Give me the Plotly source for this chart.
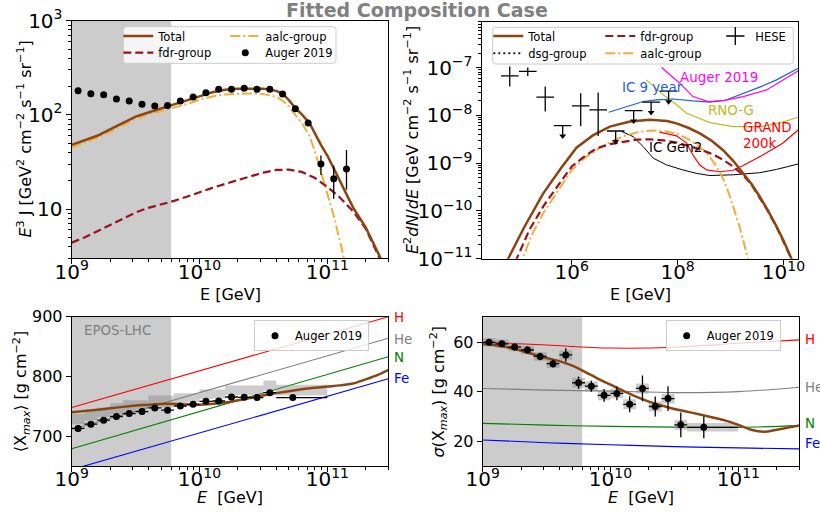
import numpy as np
import plotly.graph_objects as go

FONT = "DejaVu Sans"

# ------------------------------------------------------------------ data
# Top-left: UHECR spectrum E^3 J  (Auger 2019)
spec_lgE = [9.05, 9.15, 9.25, 9.35, 9.45, 9.55, 9.65, 9.75, 9.85, 9.95,
            10.05, 10.15, 10.25, 10.35, 10.45, 10.55, 10.65, 10.75, 10.85,
            10.95, 11.05, 11.15]
spec_E3J = [180, 168, 164, 147, 140, 130, 124, 126, 140, 155, 172, 187, 187,
            192, 187, 187, 167, 116, 82, 30, 21, 26.7]
spec_err_minus = [2, 2, 2, 2, 2, 2, 2, 2, 2, 2, 2, 2, 2, 3, 3, 3, 4, 4, 5, 7, 8.1, 10.7]
spec_err_plus = [2, 2, 2, 2, 2, 2, 2, 2, 2, 2, 2, 2, 2, 3, 3, 3, 4, 4, 5, 7, 8.0, 15.8]

tl_total_lgE = [9.0, 9.1, 9.2, 9.3, 9.4, 9.5, 9.6, 9.7, 9.8, 9.9, 10.0, 10.1, 10.2,
                10.3, 10.4, 10.5, 10.6, 10.65, 10.7, 10.75, 10.8, 10.86, 10.95,
                11.0, 11.05, 11.1, 11.15, 11.2, 11.3, 11.4, 11.48]
tl_total = [48, 54, 60, 70, 82, 96, 106, 117, 127, 140, 157, 174, 185, 190, 191,
            190, 180, 168, 143, 118, 101, 82, 48, 37, 27, 19.5, 14.2, 10.5, 6.4,
            3.3, 2.0]
tl_aalc_lgE = [9.0, 9.1, 9.2, 9.3, 9.4, 9.5, 9.6, 9.7, 9.8, 9.9, 10.0, 10.1, 10.2,
               10.3, 10.4, 10.5, 10.6, 10.65, 10.7, 10.75, 10.8, 10.86, 10.9,
               10.95, 11.0, 11.05, 11.1, 11.15]
tl_aalc = [45, 51, 57, 66, 77, 91, 101, 110, 118, 130, 145, 157, 165, 168, 169,
           167, 155, 142, 122, 100, 82, 60, 42, 25, 15, 8.5, 4.5, 2.3]
tl_fdr_lgE = [9.0, 9.1, 9.2, 9.3, 9.4, 9.5, 9.6, 9.7, 9.8, 9.9, 10.0, 10.1, 10.2,
              10.3, 10.4, 10.5, 10.6, 10.7, 10.8, 10.9, 11.0, 11.1, 11.2, 11.3,
              11.4, 11.48]
tl_fdr = [4.4, 5.0, 5.8, 6.8, 7.9, 9.2, 10.3, 11.2, 12.2, 13.5, 15.2, 16.8, 18.5,
          20.3, 22.3, 24.4, 26.0, 26.2, 24.8, 21.5, 17.2, 13.2, 9.5, 6.2, 3.2, 2.0]

# Top-right: neutrino fluxes E^2 dN/dE
tr_total_lgE = [4.70, 4.80, 5.10, 5.46, 5.80, 6.09, 6.40, 6.72, 7.10, 7.48, 7.80,
                7.98, 8.20, 8.42, 8.65, 8.86, 9.05, 9.24, 9.40, 9.55, 9.70, 9.87,
                10.00, 10.15, 10.25]
tr_total = [6.3e-12, 1.0e-11, 4.5e-11, 2.3e-10, 7.9e-10, 2.1e-9, 3.8e-9, 5.8e-9,
            7.4e-9, 8.1e-9, 7.6e-9, 6.8e-9, 5.5e-9, 4.2e-9, 2.9e-9, 1.86e-9,
            1.12e-9, 6.2e-10, 3.6e-10, 2.0e-10, 1.05e-10, 4.7e-11, 2.4e-11,
            1.0e-11, 5.0e-12]
tr_fdr_lgE = [4.85, 4.96, 5.20, 5.46, 5.75, 6.00, 6.25, 6.47, 6.72, 6.97, 7.23,
              7.48, 7.73, 7.98, 8.20, 8.42, 8.65, 8.86, 9.05, 9.24, 9.40, 9.55,
              9.70, 9.87, 10.00, 10.15, 10.25]
tr_fdr = [5.0e-12, 1.0e-11, 4.0e-11, 1.23e-10, 3.5e-10, 8.5e-10, 1.41e-9, 2.04e-9,
          2.5e-9, 2.8e-9, 3.1e-9, 3.16e-9, 3.0e-9, 2.7e-9, 2.3e-9, 1.95e-9,
          1.55e-9, 1.17e-9, 8.5e-10, 5.6e-10, 3.5e-10, 1.95e-10, 1.02e-10,
          4.6e-11, 2.3e-11, 1.0e-11, 5.0e-12]
tr_aalc_lgE = [5.00, 5.07, 5.25, 5.46, 5.75, 6.00, 6.25, 6.47, 6.72, 6.97, 7.23,
               7.48, 7.73, 7.98, 8.20, 8.42, 8.58, 8.74, 8.86, 8.99, 9.17, 9.33,
               9.40]
tr_aalc = [6.3e-12, 1.0e-11, 3.2e-11, 8.9e-11, 2.8e-10, 7.2e-10, 1.29e-9, 1.9e-9,
           2.75e-9, 3.6e-9, 4.4e-9, 4.8e-9, 4.7e-9, 4.2e-9, 3.2e-9, 2.2e-9,
           1.48e-9, 8.5e-10, 4.7e-10, 2.0e-10, 4.7e-11, 1.0e-11, 5.0e-12]
tr_dsg_lgE = []
tr_dsg = []

# HESE measured points and upper limits
hese_lgE = [4.83, 5.17, 5.50, 6.17, 6.50]
hese_flux = [6.7e-8, 8.3e-8, 2.4e-8, 1.58e-8, 1.3e-8]
hese_flux_lo = [4.0e-8, 6.7e-8, 1.2e-8, 6.0e-9, 3.7e-9]
hese_flux_hi = [1.05e-7, 1.0e-7, 4.0e-8, 2.9e-8, 3.0e-8]
hese_ul_lgE = [5.83, 6.83, 7.17, 7.50, 7.83]
hese_ul = [6.1e-9, 4.7e-9, 1.26e-8, 1.9e-8, 3.2e-8]
hese_bin_half_dex = 1.0 / 6.0

# Sensitivity curves
ic9_lgE = [6.70, 7.04, 7.35, 7.60, 7.92, 8.29, 8.61, 8.89, 9.24, 9.55, 9.87, 10.28]
ic9 = [1.16e-8, 1.5e-8, 1.95e-8, 2.11e-8, 2.2e-8, 2.0e-8, 1.9e-8, 2.05e-8,
       2.85e-8, 3.89e-8, 5.52e-8, 9.7e-8]
augsens_lgE = [7.70, 8.04, 8.29, 8.58, 8.89, 9.24, 9.68, 10.28]
augsens = [1.0e-7, 4.71e-8, 2.47e-8, 1.94e-8, 2.05e-8, 2.47e-8, 3.41e-8, 8.6e-8]
rno_lgE = [7.41, 7.73, 7.98, 8.17, 8.61, 9.05, 9.55, 9.87, 10.28]
rno = [5.52e-8, 2.68e-8, 1.66e-8, 1.11e-8, 7.05e-9, 5.81e-9, 5.81e-9, 6.61e-9, 9.12e-9]
grand_lgE = [7.66, 7.98, 8.17, 8.29, 8.42, 8.55, 8.80, 9.05, 9.24, 9.61, 9.99, 10.28]
grand = [4.47e-9, 3.72e-9, 2.63e-9, 1.48e-9, 9.1e-10, 7.2e-10, 6.6e-10, 7.1e-10,
         8.9e-10, 1.48e-9, 2.63e-9, 5.0e-9]
gen2_lgE = [6.95, 7.16, 7.35, 7.54, 7.79, 8.10, 8.36, 8.61, 9.05, 9.55, 9.87, 10.28]
gen2 = [4.57e-9, 3.59e-9, 2.22e-9, 1.27e-9, 9.2e-10, 7.2e-10, 6.1e-10, 5.5e-10,
        5.7e-10, 6.3e-10, 7.4e-10, 9.6e-10]

# Bottom panels: Auger 2019 Xmax moments
comp_lgE = [9.05, 9.15, 9.25, 9.35, 9.45, 9.55, 9.65, 9.75, 9.85, 9.95, 10.05,
            10.15, 10.25, 10.35, 10.45, 10.55, 10.73]
comp_bin_lo = [9.0, 9.1, 9.2, 9.3, 9.4, 9.5, 9.6, 9.7, 9.8, 9.9, 10.0, 10.1, 10.2,
               10.3, 10.4, 10.5, 10.6]
comp_bin_hi = [9.1, 9.2, 9.3, 9.4, 9.5, 9.6, 9.7, 9.8, 9.9, 10.0, 10.1, 10.2, 10.3,
               10.4, 10.5, 10.6, 11.0]
xmax = [712.9, 720.1, 726.7, 732.9, 737.9, 741.2, 747.2, 743.4, 750.5, 753.3,
        758.3, 758.8, 765.5, 765.0, 764.5, 772.7, 764.5]
xmax_err = [1.5, 1.5, 1.5, 1.5, 1.5, 1.7, 1.8, 2.0, 1.8, 2.0, 2.0, 2.2, 2.5, 2.5,
            3.0, 3.0, 3.0]
xmax_box_lo = [720, 726, 732, 737, 741, 745, 750, 748, 755, 757, 762, 763, 769,
               769, 769, 776, 768]
xmax_box_hi = [737, 742, 748, 755, 760, 760, 768, 768, 772, 772, 778, 778, 785,
               785, 785, 793, 786]
sig = [59.9, 59.3, 58.0, 56.8, 54.2, 51.3, 54.8, 43.6, 42.2, 38.5, 39.3, 34.9,
       41.3, 34.0, 37.2, 26.6, 25.6]
sig_err = [1.2, 1.2, 1.3, 1.4, 1.5, 1.6, 2.7, 2.5, 2.2, 2.6, 2.8, 3.2, 5.2, 4.0,
           5.0, 5.0, 4.4]
sig_sys = [1.7, 1.7, 1.7, 1.7, 1.7, 1.8, 1.9, 2.0, 2.0, 2.0, 2.0, 2.0, 2.0, 2.0,
           2.0, 2.0, 1.7]

xmax_model_lgE = [9.0, 9.2, 9.4, 9.55, 9.7, 9.85, 10.0, 10.15, 10.3, 10.45, 10.6,
                  10.75, 10.9, 11.0, 11.1, 11.2, 11.3, 11.4, 11.48]
xmax_model = [740, 744, 749, 752, 754, 753.5, 752.5, 755, 760, 766, 772, 777, 781,
              783, 785, 788, 795, 803, 811]
sig_model_lgE = [9.0, 9.1, 9.2, 9.3, 9.4, 9.5, 9.6, 9.7, 9.8, 9.9, 10.0, 10.1, 10.2,
                 10.3, 10.4, 10.5, 10.6, 10.7, 10.8, 10.9, 11.0, 11.1, 11.2, 11.3,
                 11.4, 11.48]
sig_model = [59.2, 58.7, 57.8, 56.5, 55.0, 53.6, 52.3, 50.5, 48.0, 45.3, 42.8,
             40.3, 38.0, 36.0, 34.4, 33.0, 31.9, 30.8, 29.6, 28.3, 26.6, 24.6,
             23.8, 24.6, 25.6, 26.3]

# pure-element references (EPOS-LHC)
elem_names = ["H", "He", "N", "Fe"]
elem_colors = ["#ff0000", "#808080", "#008000", "#0000ff"]
elem_lgE = [9.0, 11.477]
elem_xmax = [[748, 900], [711, 864], [679, 833], [644, 796]]
elem_sig_lgE = [9.0, 9.5, 10.0, 10.5, 11.0, 11.477]
elem_sig = [[60.0, 58.8, 57.6, 57.9, 59.5, 60.9],
            [41.3, 40.6, 40.2, 39.6, 40.0, 41.8],
            [27.2, 26.5, 26.0, 25.7, 25.6, 26.3],
            [20.5, 19.4, 18.6, 17.8, 17.3, 16.9]]
elem_label_xmax = [899, 862.5, 831, 796]
elem_label_sig = [60.9, 41.8, 27.2, 18.9]

fit_band_E = [1e9, 6e9]

# ------------------------------------------------------------------ styles
C_TOT = "#8b4513"
C_FDR = "#9b111e"
C_AALC = "#f2ae3d"
C_DSG = "#1a1a3a"


def E(lg):
    return [None if v is None else 10 ** v for v in lg]


fig = go.Figure()


def add(tr):
    fig.add_trace(tr)


# ---------------- top-left
add(go.Scatter(x=E(tl_aalc_lgE), y=tl_aalc, mode="lines", name="aalc-group",
               line=dict(color=C_AALC, width=2, dash="10px,3px,2px,3px"),
               xaxis="x", yaxis="y", legend="legend", legendrank=2, legendwidth=62))
add(go.Scatter(x=E(tl_fdr_lgE), y=tl_fdr, mode="lines", name="fdr-group",
               line=dict(color=C_FDR, width=2.2, dash="8px,4px"),
               xaxis="x", yaxis="y", legend="legend2", legendrank=1, legendwidth=62))
add(go.Scatter(x=E(tl_total_lgE), y=tl_total, mode="lines", name="Total",
               line=dict(color=C_TOT, width=2.5),
               xaxis="x", yaxis="y", legend="legend", legendrank=1, legendwidth=62))
add(go.Scatter(x=E(spec_lgE), y=spec_E3J, mode="markers", name="Auger 2019",
               marker=dict(color="black", size=7),
               error_y=dict(type="data", symmetric=False, array=spec_err_plus,
                            arrayminus=spec_err_minus, color="black", thickness=1.3, width=0),
               xaxis="x", yaxis="y", legend="legend2", legendrank=2))


# ---------------- top-right
def tr_line(lg, y, color, width=1.2):
    add(go.Scatter(x=E(lg), y=y, mode="lines", line=dict(color=color, width=width),
                   showlegend=False, xaxis="x2", yaxis="y2", hoverinfo="skip"))


tr_line(ic9_lgE, ic9, "#1f5fdc")
tr_line(augsens_lgE, augsens, "#ff00ff")
tr_line(rno_lgE, rno, "#bcbd22")
tr_line(grand_lgE, grand, "#ff0000")
tr_line(gen2_lgE, gen2, "#000000", width=1.0)

add(go.Scatter(x=E(tr_aalc_lgE), y=tr_aalc, mode="lines", name="aalc-group",
               line=dict(color=C_AALC, width=2, dash="10px,3px,2px,3px"),
               xaxis="x2", yaxis="y2", legend="legend4", legendrank=2, legendwidth=67))
add(go.Scatter(x=E(tr_fdr_lgE), y=tr_fdr, mode="lines", name="fdr-group",
               line=dict(color=C_FDR, width=2.2, dash="8px,4px"),
               xaxis="x2", yaxis="y2", legend="legend3", legendrank=2, legendwidth=70))
add(go.Scatter(x=E(tr_dsg_lgE) or [None], y=tr_dsg or [None], mode="lines", name="dsg-group",
               line=dict(color=C_DSG, width=2, dash="2px,3px"),
               xaxis="x2", yaxis="y2", legend="legend4", legendrank=1, legendwidth=67))
add(go.Scatter(x=E(tr_total_lgE), y=tr_total, mode="lines", name="Total",
               line=dict(color=C_TOT, width=2.5),
               xaxis="x2", yaxis="y2", legend="legend3", legendrank=1, legendwidth=67))

hE = np.array(E(hese_lgE))
hE_lo = 10 ** (np.array(hese_lgE) - hese_bin_half_dex)
hE_hi = 10 ** (np.array(hese_lgE) + hese_bin_half_dex)
add(go.Scatter(x=hE, y=hese_flux, mode="markers", marker=dict(size=1, color="rgba(0,0,0,0)"),
               error_x=dict(type="data", symmetric=False, array=hE_hi - hE,
                            arrayminus=hE - hE_lo, color="black", thickness=1.3, width=0),
               error_y=dict(type="data", symmetric=False,
                            array=np.array(hese_flux_hi) - np.array(hese_flux),
                            arrayminus=np.array(hese_flux) - np.array(hese_flux_lo),
                            color="black", thickness=1.3, width=0),
               showlegend=False, xaxis="x2", yaxis="y2", hoverinfo="skip"))
uE = np.array(E(hese_ul_lgE))
uE_lo = 10 ** (np.array(hese_ul_lgE) - hese_bin_half_dex)
uE_hi = 10 ** (np.array(hese_ul_lgE) + hese_bin_half_dex)
ul = np.array(hese_ul)
ul_tip = ul / 10 ** 0.22
add(go.Scatter(x=uE, y=ul, mode="markers", marker=dict(size=1, color="rgba(0,0,0,0)"),
               error_x=dict(type="data", symmetric=False, array=uE_hi - uE,
                            arrayminus=uE - uE_lo, color="black", thickness=1.3, width=0),
               error_y=dict(type="data", symmetric=False, array=np.zeros_like(ul),
                            arrayminus=ul - ul_tip, color="black", thickness=1.3, width=0),
               showlegend=False, xaxis="x2", yaxis="y2", hoverinfo="skip"))
add(go.Scatter(x=uE, y=ul_tip, mode="markers",
               marker=dict(symbol="triangle-down", size=6, color="black"),
               showlegend=False, xaxis="x2", yaxis="y2", hoverinfo="skip"))
add(go.Scatter(x=[None], y=[None], mode="markers", name="HESE",
               marker=dict(symbol="cross-thin-open", size=13, color="black",
                           line=dict(color="black", width=1.3)),
               xaxis="x2", yaxis="y2", legend="legend3", legendrank=3))


# ---------------- bottom panels
def boxes(lo_lg, hi_lg, ylo, yhi):
    xs, ys = [], []
    for a, b, c, d in zip(lo_lg, hi_lg, ylo, yhi):
        xs += [10 ** a, 10 ** b, 10 ** b, 10 ** a, 10 ** a, None]
        ys += [c, c, d, d, c, None]
    return xs, ys


cE = np.array(E(comp_lgE))
cE_lo = 10 ** np.array(comp_bin_lo)
cE_hi = 10 ** np.array(comp_bin_hi)

for i, nm in enumerate(elem_names):
    add(go.Scatter(x=E(elem_lgE), y=elem_xmax[i], mode="lines",
                   line=dict(color=elem_colors[i], width=1.1),
                   showlegend=False, xaxis="x3", yaxis="y3", hoverinfo="skip"))
    add(go.Scatter(x=E(elem_sig_lgE), y=elem_sig[i], mode="lines", line_shape="spline",
                   line=dict(color=elem_colors[i], width=1.1),
                   showlegend=False, xaxis="x4", yaxis="y4", hoverinfo="skip"))

bx, by = boxes(comp_bin_lo, comp_bin_hi, xmax_box_lo, xmax_box_hi)
add(go.Scatter(x=bx, y=by, mode="lines", fill="toself", fillcolor="rgba(128,128,128,0.4)",
               line=dict(width=0), showlegend=False, xaxis="x3", yaxis="y3", hoverinfo="skip"))
sx, sy = boxes(comp_bin_lo, comp_bin_hi,
               list(np.array(sig) - np.array(sig_sys)), list(np.array(sig) + np.array(sig_sys)))
add(go.Scatter(x=sx, y=sy, mode="lines", fill="toself", fillcolor="rgba(128,128,128,0.4)",
               line=dict(width=0), showlegend=False, xaxis="x4", yaxis="y4", hoverinfo="skip"))

add(go.Scatter(x=E(xmax_model_lgE), y=xmax_model, mode="lines", line_shape="spline",
               line=dict(color=C_TOT, width=2.5), showlegend=False,
               xaxis="x3", yaxis="y3", hoverinfo="skip"))
add(go.Scatter(x=E(sig_model_lgE), y=sig_model, mode="lines", line_shape="spline",
               line=dict(color=C_TOT, width=2.5), showlegend=False,
               xaxis="x4", yaxis="y4", hoverinfo="skip"))

add(go.Scatter(x=cE, y=xmax, mode="markers", name="Auger 2019",
               marker=dict(color="black", size=7),
               error_x=dict(type="data", symmetric=False, array=cE_hi - cE,
                            arrayminus=cE - cE_lo, color="black", thickness=1.3, width=0),
               error_y=dict(type="data", array=xmax_err, color="black", thickness=1.3, width=0),
               xaxis="x3", yaxis="y3", legend="legend5"))
add(go.Scatter(x=cE, y=sig, mode="markers", name="Auger 2019",
               marker=dict(color="black", size=7),
               error_x=dict(type="data", symmetric=False, array=cE_hi - cE,
                            arrayminus=cE - cE_lo, color="black", thickness=1.3, width=0),
               error_y=dict(type="data", array=sig_err, color="black", thickness=1.3, width=0),
               xaxis="x4", yaxis="y4", legend="legend6"))

# invisible anchor traces so the minor-tick overlay axes are drawn
for xa, ya in (("x5", "y"), ("x6", "y3"), ("x7", "y4"), ("x", "y5"), ("x2", "y6")):
    add(go.Scatter(x=[None], y=[None], xaxis=xa, yaxis=ya, showlegend=False,
                   hoverinfo="skip", mode="markers"))

# ------------------------------------------------------------------ layout
W, H = 820, 518


def px_x(p):
    return p / W


def px_y(p):
    return 1 - p / H


tickfont = dict(family=FONT, size=16, color="black")
titlefont = dict(family=FONT, size=16, color="black")


def logaxis(domain, rng, dtick, anchor, standoff=0):
    return dict(domain=domain, type="log", range=rng, dtick=dtick, tick0=0,
                exponentformat="power", showexponent="all",
                ticks="outside", ticklen=5, tickwidth=1, tickcolor="black",
                showline=True, linecolor="black", linewidth=1, mirror=True,
                showgrid=False, zeroline=False, tickfont=tickfont, anchor=anchor,
                automargin=False, ticklabelstandoff=standoff)


def linaxis(domain, rng, dtick, anchor, standoff=0):
    return dict(domain=domain, type="linear", range=rng, dtick=dtick,
                ticks="outside", ticklen=5, tickwidth=1, tickcolor="black",
                showline=True, linecolor="black", linewidth=1, mirror=True,
                showgrid=False, zeroline=False, tickfont=tickfont, anchor=anchor,
                automargin=False, ticklabelstandoff=standoff)


def minor_axis(over, anchor, rng, vals):
    return dict(overlaying=over, anchor=anchor, type="log", range=rng,
                tickmode="array", tickvals=vals, ticks="outside", ticklen=3,
                tickwidth=0.8, tickcolor="black", showticklabels=False,
                showline=False, showgrid=False, zeroline=False, automargin=False)


xdom_L = [px_x(71.7), px_x(388.3)]
xdom_R = [px_x(481.7), px_x(798.3)]
xdom_R2 = [px_x(482.7), px_x(799.3)]
ydom_T = [px_y(258.3), px_y(20.7)]
ydom_TR = [px_y(258.7), px_y(21.7)]
ydom_B = [px_y(466), px_y(316.7)]
ydom_BR = [px_y(466), px_y(317.3)]

xr_uhe = [9.0, np.log10(3e11)]
yr_tl = [np.log10(3), 3]
yr_tr = [-11, -6.04]

minor_uhe_x = [k * 10.0 ** n for n in (9, 10, 11) for k in range(2, 10) if k * 10.0 ** n <= 3e11]
minor_tl_y = [k * 10.0 ** n for n in (0, 1, 2) for k in range(2, 10) if 3 <= k * 10.0 ** n <= 1000]
minor_tr_y = [k * 10.0 ** n for n in range(-11, -6) for k in range(2, 10) if k * 10.0 ** n <= 9e-7]

XSO = -9  # pull x tick labels toward the axis (matplotlib-like spacing)
layout = dict(
    width=W, height=H, margin=dict(l=0, r=0, t=0, b=0),
    paper_bgcolor="white", plot_bgcolor="white",
    font=dict(family=FONT, size=12, color="black"),
    xaxis=logaxis(xdom_L, xr_uhe, 1, "y", XSO),
    yaxis=logaxis(ydom_T, yr_tl, 1, "x"),
    xaxis2=logaxis(xdom_R, [4.30, 10.28], 2, "y2", XSO),
    yaxis2=logaxis(ydom_TR, yr_tr, 1, "x2"),
    xaxis3=logaxis(xdom_L, xr_uhe, 1, "y3", XSO),
    yaxis3=linaxis(ydom_B, [650, 900], 100, "x3"),
    xaxis4=logaxis(xdom_R2, xr_uhe, 1, "y4", XSO),
    yaxis4=linaxis(ydom_BR, [10, 70], 20, "x4"),
    xaxis5=minor_axis("x", "y", xr_uhe, minor_uhe_x),
    xaxis6=minor_axis("x3", "y3", xr_uhe, minor_uhe_x),
    xaxis7=minor_axis("x4", "y4", xr_uhe, minor_uhe_x),
    yaxis5=minor_axis("y", "x", yr_tl, minor_tl_y),
    yaxis6=minor_axis("y2", "x2", yr_tr, minor_tr_y),
    showlegend=True,
)

legfont = dict(family=FONT, size=11.5, color="black")


def rowlegend(x_text, y_center):
    return dict(orientation="h", x=px_x(x_text - 40), y=px_y(y_center), xanchor="left",
                yanchor="middle", bgcolor="rgba(0,0,0,0)", borderwidth=0, font=legfont,
                traceorder="normal")


layout["legend"] = rowlegend(158.3, 36.0)
layout["legend2"] = rowlegend(158.3, 52.7)
layout["legend3"] = rowlegend(528.3, 36.0)
layout["legend4"] = rowlegend(528.3, 53.3)
for key, xt in (("legend5", 296.0), ("legend6", 707.7)):
    layout[key] = dict(x=px_x(xt - 42), y=px_y(335.8), xanchor="left", yanchor="middle",
                       bgcolor="rgba(255,255,255,0.8)", bordercolor="#cccccc", borderwidth=1,
                       font=legfont)

fig.update_layout(**layout)


def rounded_rect(x0, y0, x1, y1, r=3):
    X0, X1 = px_x(x0), px_x(x1)
    Y0, Y1 = px_y(y0), px_y(y1)
    rx, ry = r / W, r / H
    return (f"M{X0 + rx},{Y0} L{X1 - rx},{Y0} Q{X1},{Y0} {X1},{Y0 - ry} "
            f"L{X1},{Y1 + ry} Q{X1},{Y1} {X1 - rx},{Y1} L{X0 + rx},{Y1} "
            f"Q{X0},{Y1} {X0},{Y1 + ry} L{X0},{Y0 - ry} Q{X0},{Y0} {X0 + rx},{Y0} Z")


shapes = []
for xr, yr in (("x", "y domain"), ("x3", "y3 domain"), ("x4", "y4 domain")):
    shapes.append(dict(type="rect", xref=xr, yref=yr, x0=fit_band_E[0], x1=fit_band_E[1],
                       y0=0, y1=1, fillcolor="#cccccc", line=dict(width=0), layer="below"))
for box in ((123.3, 26.7, 336.0, 63.3), (492.7, 27.3, 793.3, 64.0)):
    shapes.append(dict(type="path", xref="paper", yref="paper", path=rounded_rect(*box),
                       fillcolor="rgba(255,255,255,0.8)", line=dict(color="#cccccc", width=1),
                       layer="above"))
fig.update_layout(shapes=shapes)

ann = []
ann.append(dict(text="<b>Fitted Composition Case</b>", x=px_x(416.7), y=px_y(9.5),
                xref="paper", yref="paper", showarrow=False, xanchor="center", yanchor="middle",
                font=dict(family=FONT, size=19, color="#808080")))

# axis titles
axis_titles = [
    ("E [GeV]", 230.0, 294.0, 0),
    ("E [GeV]", 640.0, 294.0, 0),
    ("<i>E</i>  [GeV]", 230.0, 497.0, 0),
    ("<i>E</i>  [GeV]", 641.0, 497.0, 0),
    ("<i>E</i><sup>3</sup> J [GeV<sup>2</sup> cm<sup>−2</sup> s<sup>−1</sup> sr<sup>−1</sup>]",
     25.0, 139.5, -90),
    ("<i>E</i><sup>2</sup><i>dN</i>/<i>dE</i> [GeV cm<sup>−2</sup> s<sup>−1</sup> sr<sup>−1</sup>]",
     411.0, 140.0, -90),
    ("⟨X<sub><i>max</i></sub>⟩ [g cm<sup>−2</sup>]", 21.0, 391.3, -90),
    ("<i>σ</i>(X<sub><i>max</i></sub>) [g cm<sup>−2</sup>]", 439.0, 391.6, -90),
]
for t, x, y, ang in axis_titles:
    ann.append(dict(text=t, x=px_x(x), y=px_y(y), xref="paper", yref="paper",
                    showarrow=False, xanchor="center", yanchor="middle", textangle=ang,
                    font=titlefont))

tr_labels = [("Auger 2019", 8.01, -7.20, "#ff00ff"),
             ("IC 9 year", 6.91, -7.41, "#1f5fdc"),
             ("RNO-G", 8.545, -7.90, "#bcbd22"),
             ("GRAND", 9.205, -8.263, "#ff0000"),
             ("200k", 9.205, -8.583, "#ff0000"),
             ("IC Gen2", 7.425, -8.675, "#000000")]
for t, x, y, c in tr_labels:
    ann.append(dict(text=t, x=x, y=y, xref="x2", yref="y2", showarrow=False,
                    xanchor="left", yanchor="middle",
                    font=dict(family=FONT, size=13.4, color=c)))
ann.append(dict(text="EPOS-LHC", x=9.078, y=876.7, xref="x3", yref="y3", showarrow=False,
                xanchor="left", yanchor="middle", font=dict(family=FONT, size=13.4, color="#808080")))
for i, nm in enumerate(elem_names):
    ann.append(dict(text=nm, x=1.012, y=elem_label_xmax[i], xref="x3 domain", yref="y3",
                    showarrow=False, xanchor="left", yanchor="middle",
                    font=dict(family=FONT, size=13.4, color=elem_colors[i])))
    ann.append(dict(text=nm, x=1.013, y=elem_label_sig[i], xref="x4 domain", yref="y4",
                    showarrow=False, xanchor="left", yanchor="middle",
                    font=dict(family=FONT, size=13.4, color=elem_colors[i])))
fig.update_layout(annotations=ann)

fig.write_html("out.html")
